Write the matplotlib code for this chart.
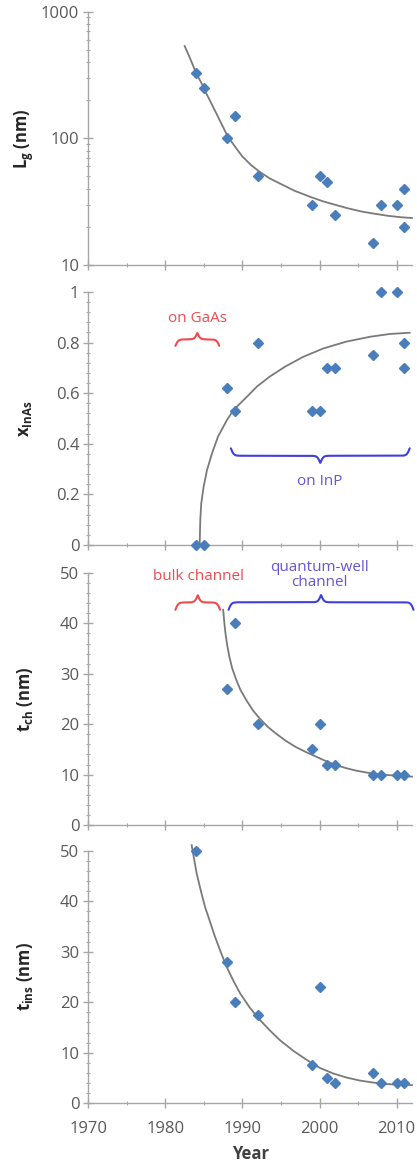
import numpy as np
import matplotlib
matplotlib.use("Agg")
import matplotlib.pyplot as plt
from matplotlib.ticker import MultipleLocator, FixedLocator, NullFormatter, LogLocator, FuncFormatter

plt.rcParams['font.family'] = ['Open Sans', 'DejaVu Sans']
plt.rcParams['mathtext.fontset'] = 'custom'
plt.rcParams['mathtext.rm'] = 'Open Sans'
plt.rcParams['mathtext.bf'] = 'Open Sans:bold'
plt.rcParams['mathtext.it'] = 'Open Sans:italic'

# ---------------- data ----------------
lg_years = [1984, 1985, 1988, 1989, 1992, 1999, 2000, 2001, 2002, 2007, 2008, 2010, 2011, 2011]
lg_nm = [330, 250, 100, 150, 50, 30, 50, 45, 25, 15, 30, 30, 40, 20]
lg_fit_years = [1982.5, 1983.2, 1984.0, 1984.7, 1985.3, 1986.0, 1986.6, 1987.4, 1988.1, 1989.1,
                1990.0, 1991.1, 1992.2, 1993.5, 1994.8, 1996.7, 1998.7, 2000.4, 2002.1, 2003.8,
                2005.5, 2007.3, 2009.0, 2010.7, 2012.0]
lg_fit = [536, 429, 327, 272, 227, 187, 158, 126, 103, 85,
          71.8, 61.7, 54.6, 48.4, 44.2, 38.7, 34.7, 31.9, 29.8, 27.9,
          26.4, 25.3, 24.4, 23.8, 23.5]

x_years = [1984, 1985, 1988, 1989, 1992, 1999, 2000, 2001, 2002, 2007, 2008, 2010, 2011, 2011]
x_inas = [0, 0, 0.62, 0.53, 0.8, 0.53, 0.53, 0.7, 0.7, 0.75, 1.0, 1.0, 0.8, 0.7]
x_fit_years = [1984.45, 1984.53, 1984.66, 1984.96, 1985.40, 1986.05, 1986.82, 1987.99, 1988.85,
               1990.58, 1991.87, 1993.51, 1995.54, 1997.9, 2000.5, 2003.5, 2006.55, 2009.1, 2011.7]
x_fit = [0.0, 0.099, 0.165, 0.23, 0.296, 0.362, 0.428, 0.494, 0.534,
         0.586, 0.626, 0.665, 0.705, 0.744, 0.777, 0.804, 0.823, 0.834, 0.839]

tch_years = [1988, 1989, 1992, 1999, 2000, 2001, 2002, 2007, 2008, 2010, 2011]
tch_nm = [27, 40, 20, 15, 20, 12, 12, 10, 10, 10, 10]
tch_fit_years = [1987.5, 1987.64, 1987.8, 1988.02, 1988.3, 1988.67, 1989.2, 1989.74, 1990.5,
                 1991.33, 1992.2, 1993.27, 1994.3, 1995.63, 1996.9, 1998.2, 1999.5, 2000.8,
                 2002.1, 2003.4, 2004.7, 2005.96, 2007.3, 2009.8, 2012.0]
tch_fit = [42.7, 40.3, 38.0, 35.7, 33.4, 31.1, 28.8, 26.8, 24.8,
           22.8, 21.2, 19.5, 18.2, 16.7, 15.5, 14.5, 13.6, 12.7,
           11.9, 11.3, 10.8, 10.45, 10.1, 9.8, 9.6]

tins_years = [1984, 1988, 1989, 1992, 1999, 2000, 2001, 2002, 2007, 2008, 2010, 2011]
tins_nm = [50, 28, 20, 17.5, 7.5, 23, 5, 4, 6, 4, 4, 4]
tins_fit_years = [1983.41, 1983.71, 1984.06, 1984.58, 1985.14, 1985.78, 1986.43, 1987.17, 1987.95,
                  1988.81, 1989.68, 1990.97, 1992.27, 1993.57, 1994.86, 1996.59, 1998.33,
                  2000.05, 2001.78, 2003.51, 2005.24, 2006.97, 2008.7, 2012.0]
tins_fit = [51.1, 48.5, 45.5, 42.2, 38.9, 36.0, 33.0, 30.0, 27.0,
            24.3, 21.8, 18.9, 16.5, 14.4, 12.5, 10.4, 8.6,
            7.0, 5.9, 5.1, 4.5, 4.1, 3.8, 3.6]

year_ticks = [1970, 1980, 1990, 2000, 2010]

# ---------------- style ----------------
W, H = 417, 1163
fig = plt.figure(figsize=(W / 100, H / 100), dpi=100)

MARK = '#4a7ebb'
LINE = '#7a7a7a'
SPINE = '#a6a6a6'
TXT = '#595959'
RED = '#ee4b4f'
BLUE = '#3f3fe0'
BLUE_TXT = '#6655d8'

left = 88.3 / W
width = (412.0 - 88.3) / W


def pos(top_px, bot_px):
    return [left, 1 - bot_px / H, width, (bot_px - top_px) / H]


axes = [fig.add_axes(pos(11.7, 265)),
        fig.add_axes(pos(292, 545)),
        fig.add_axes(pos(573, 825)),
        fig.add_axes(pos(850.7, 1103.3))]


def style(ax):
    for s in ['top', 'right']:
        ax.spines[s].set_visible(False)
    for s in ['left', 'bottom']:
        ax.spines[s].set_color(SPINE)
        ax.spines[s].set_linewidth(1.0)
    ax.set_xlim(1970, 2012)
    ax.xaxis.set_major_locator(FixedLocator(year_ticks))
    ax.xaxis.set_minor_locator(MultipleLocator(5))
    ax.tick_params(which='major', direction='inout', length=7, width=1.0,
                   color=SPINE, labelcolor=TXT, labelsize=12, pad=3)
    ax.tick_params(which='minor', direction='inout', length=3.5, width=0.8,
                   color=SPINE)
    ax.tick_params(axis='x', which='major', pad=9)
    ax.patch.set_alpha(0)


for ax in axes:
    style(ax)

MS = 5.5

# panel 1
ax = axes[0]
ax.set_yscale('log')
ax.set_ylim(10, 1000)
ax.yaxis.set_major_locator(FixedLocator([10, 100, 1000]))
ax.yaxis.set_major_formatter(FuncFormatter(lambda v, p: f"{v:g}"))
ax.yaxis.set_minor_locator(LogLocator(base=10, subs=np.arange(2, 10)))
ax.yaxis.set_minor_formatter(NullFormatter())
ax.plot(lg_fit_years, lg_fit, color=LINE, lw=1.3, clip_on=False, zorder=2)
ax.plot(lg_years, lg_nm, 'D', color=MARK, ms=MS, clip_on=False, zorder=3)

# panel 2
ax = axes[1]
ax.set_ylim(0, 1)
ax.yaxis.set_major_locator(MultipleLocator(0.2))
ax.yaxis.set_major_formatter(FuncFormatter(lambda v, p: f"{v:g}"))
ax.yaxis.set_minor_locator(MultipleLocator(0.04))
ax.plot(x_fit_years, x_fit, color=LINE, lw=1.3, clip_on=False, zorder=2)
ax.plot(x_years, x_inas, 'D', color=MARK, ms=MS, clip_on=False, zorder=3)

# panel 3
ax = axes[2]
ax.set_ylim(0, 50)
ax.yaxis.set_major_locator(MultipleLocator(10))
ax.yaxis.set_minor_locator(MultipleLocator(2))
ax.plot(tch_fit_years, tch_fit, color=LINE, lw=1.3, clip_on=False, zorder=2)
ax.plot(tch_years, tch_nm, 'D', color=MARK, ms=MS, clip_on=False, zorder=3)

# panel 4
ax = axes[3]
ax.set_ylim(0, 50)
ax.yaxis.set_major_locator(MultipleLocator(10))
ax.yaxis.set_minor_locator(MultipleLocator(2))
ax.plot(tins_fit_years, tins_fit, color=LINE, lw=1.3, clip_on=False, zorder=2)
ax.plot(tins_years, tins_nm, 'D', color=MARK, ms=MS, clip_on=False, zorder=3)
ax.set_xlabel('Year', fontsize=12, fontweight='bold', color='#404040', labelpad=6)

for ax in axes[:3]:
    ax.tick_params(axis='x', labelbottom=False)

labels = [r"$\mathbf{L_g}$ (nm)", r"$\mathbf{x_{InAs}}$",
          r"$\mathbf{t_{ch}}$ (nm)", r"$\mathbf{t_{ins}}$ (nm)"]
for ax, lab in zip(axes, labels):
    ax.text(-0.197, 0.5, lab, transform=ax.transAxes, rotation=90,
            ha='center', va='center', fontsize=12, fontweight='bold',
            color='#262626')


def brace(ax, x0, x1, y_end, y_tip, color, beta=5.4):
    xs = np.linspace(x0, x1, 600)
    mid = 0.5 * (x0 + x1)
    xm = np.where(xs <= mid, xs, x0 + x1 - xs)
    ys = 1 / (1 + np.exp(-beta * (xm - x0))) + 1 / (1 + np.exp(-beta * (xm - mid)))
    ys = (ys - ys.min()) / (ys.max() - ys.min())
    ax.plot(xs, y_end + ys * (y_tip - y_end), color=color, lw=1.5,
            clip_on=False, solid_capstyle='round')


# annotations panel 2
ax = axes[1]
brace(ax, 1981.3, 1987.0, 0.787, 0.838, RED)
ax.text(1984.2, 0.897, 'on GaAs', color=RED, fontsize=11, ha='center', va='center')
brace(ax, 1988.5, 2011.7, 0.382, 0.325, BLUE)
ax.text(2000.0, 0.25, 'on InP', color=BLUE_TXT, fontsize=11, ha='center', va='center')

# annotations panel 3
ax = axes[2]
brace(ax, 1981.3, 1987.1, 42.7, 45.6, RED)
ax.text(1984.3, 49.4, 'bulk channel', color=RED, fontsize=11, ha='center', va='center')
brace(ax, 1988.2, 2012.2, 42.7, 45.6, BLUE)
ax.text(2000.0, 49.6, 'quantum-well\nchannel', color=BLUE_TXT, fontsize=11,
        ha='center', va='center', linespacing=1.05)

fig.savefig('out.png', dpi=100)
